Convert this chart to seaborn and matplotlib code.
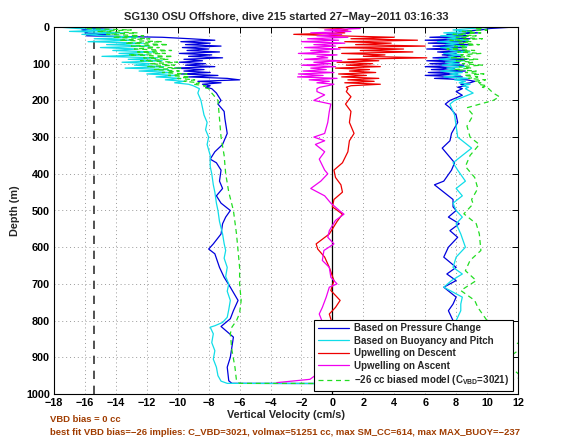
import numpy as np
import pandas as pd
import matplotlib
matplotlib.use("Agg")
import matplotlib.pyplot as plt
import seaborn as sns

sns.set_style("white")
plt.rcParams['font.family'] = ['Liberation Sans', 'DejaVu Sans']
plt.rcParams['font.weight'] = 'bold'
plt.rcParams['mathtext.fontset'] = 'custom'
plt.rcParams['mathtext.rm'] = 'Liberation Sans:bold'
plt.rcParams['mathtext.bf'] = 'Liberation Sans:bold'
plt.rcParams['mathtext.default'] = 'bf'

# ---------------- data ----------------
depth_top = [0, 4, 8, 12, 16, 20, 24, 28, 32, 36, 40, 44, 48, 52, 56, 60, 64, 68, 72, 76,
             80, 84, 88, 92, 96, 100, 104, 108, 112, 116, 120, 124, 128, 132, 136, 140,
             144, 148, 152, 156, 160, 164, 168]

# Based on Pressure Change (blue)
blue_dn_top = [-13.5, -15.5, -16.2, -15.8, -16.0, -14.5, -15.9, -11.0, -9.2, -7.6,
               -9.8, -7.9, -9.5, -7.2, -9.7, -8.0, -9.4, -7.3, -9.9, -7.8,
               -9.3, -7.1, -9.6, -8.4, -9.9, -8.2, -9.5, -7.6, -10.2, -8.3,
               -9.6, -7.9, -9.8, -7.4, -9.3, -6.8, -6.0, -8.7, -7.2, -8.4,
               -7.9, -8.2, -7.8]
blue_dn_deep_d = [180, 200, 210, 230, 250, 290, 320, 340, 360, 370, 390, 420, 440, 460, 480,
                  500, 518, 536, 564, 591, 605, 618, 655, 682, 709, 745, 773, 795, 816, 827,
                  845, 873, 900, 927, 964, 971]
blue_dn_deep_v = [-7.5, -7.2, -7.4, -7.0, -6.95, -6.8, -7.1, -7.6, -7.9, -7.5,
                  -7.2, -7.3, -7.1, -7.5, -7.2, -6.6, -6.9, -7.1, -7.2, -7.7,
                  -8.0, -7.6, -7.3, -7.0, -6.6, -6.1, -6.4, -6.6, -7.2, -6.9,
                  -6.4, -6.5, -6.6, -6.8, -6.7, -6.5]
blue_up_top = [11.8, 10.2, 9.6, 8.2, 9.4, 7.4, 8.8, 6.3, 8.9, 6.0,
               8.6, 6.2, 9.0, 6.5, 8.4, 6.1, 8.7, 6.8, 8.0, 7.1,
               8.3, 6.5, 8.7, 6.1, 8.2, 6.3, 8.5, 6.0, 7.9, 6.4,
               8.6, 6.2, 8.1, 6.0, 8.4, 6.6, 8.7, 9.2, 8.9, 8.3,
               8.6, 8.1, 8.4]
blue_up_deep_d = [176, 186, 200, 210, 220, 240, 260, 290, 310, 330, 350, 370, 390, 420, 430,
                  450, 470, 490, 500, 518, 536, 555, 573, 600, 627, 655, 673, 691, 709, 736,
                  755, 773, 800, 830, 860, 890, 920, 950, 972]
blue_up_deep_v = [8.0, 8.4, 7.6, 7.3, 7.6, 8.0, 8.1, 7.7, 7.6, 7.1,
                  7.5, 7.9, 7.7, 7.2, 6.6, 7.2, 7.8, 7.8, 8.0, 7.5,
                  8.2, 7.6, 8.1, 7.5, 7.2, 8.0, 7.4, 8.0, 7.2, 8.0,
                  7.8, 7.5, 7.8, 7.6, 7.9, 7.7, 7.8, 7.5, 7.0]

# Based on Buoyancy and Pitch (cyan)
cyan_dn_top = [-17.8, -16.5, -14.2, -17.0, -13.5, -16.2, -14.8, -12.6, -15.4, -13.0,
               -15.8, -12.2, -14.6, -11.8, -15.0, -12.6, -14.2, -11.5, -13.8, -12.0,
               -14.9, -11.3, -13.2, -11.0, -13.6, -11.7, -12.8, -10.9, -13.4, -10.6,
               -12.5, -10.4, -12.0, -10.1, -11.4, -9.8, -10.8, -9.6, -10.2, -9.3,
               -9.0, -8.8, -8.6]
cyan_dn_deep_d = [180, 200, 220, 240, 260, 280, 300, 320, 350, 380, 400, 430, 450, 480, 500,
                  530, 564, 590, 609, 630, 655, 680, 700, 720, 745, 770, 791, 805, 814, 818,
                  836, 860, 882, 905, 927, 950, 965, 971]
cyan_dn_deep_v = [-8.7, -8.5, -8.4, -8.3, -8.1, -8.2, -8.0, -8.1, -7.9, -7.9,
                  -7.8, -7.7, -7.6, -7.5, -7.4, -7.3, -7.1, -7.0, -6.9, -7.0,
                  -6.8, -6.9, -6.7, -6.8, -6.6, -6.7, -6.8, -7.1, -7.6, -7.9,
                  -7.7, -7.8, -7.6, -7.7, -7.5, -7.4, -7.2, -6.8]
cyan_up_top = [10.4, 9.0, 7.8, 8.9, 7.2, 8.6, 7.0, 8.4, 7.4, 8.8,
               6.8, 8.2, 7.3, 8.7, 7.0, 8.1, 7.6, 8.9, 7.2, 8.3,
               7.5, 8.0, 6.9, 8.5, 7.3, 8.2, 7.1, 8.6, 7.4, 8.0,
               7.0, 8.4, 7.6, 8.3, 7.2, 8.8, 7.9, 8.6, 8.2, 8.9,
               8.4, 8.8, 8.6]
cyan_up_deep_d = [180, 200, 210, 240, 270, 300, 330, 350, 370, 390, 420, 440, 460, 480, 500,
                  518, 536, 564, 600, 627, 655, 673, 691, 709, 736, 755, 773, 800, 830, 860,
                  890, 920, 950, 972]
cyan_up_deep_v = [9.1, 7.9, 7.6, 7.9, 8.0, 8.1, 9.0, 8.4, 7.8, 8.1,
                  8.6, 8.0, 8.4, 7.8, 8.0, 8.4, 8.0, 8.3, 8.6, 8.0,
                  7.8, 8.4, 7.7, 7.2, 8.4, 8.3, 8.3, 8.0, 8.1, 8.2,
                  8.0, 8.1, 7.9, 7.5]

# -26 cc biased model (green dashed)
green_dn_top = [-15.0, -16.0, -13.0, -15.2, -12.6, -14.6, -12.2, -14.2, -11.8, -13.8,
                -11.0, -13.4, -10.6, -13.0, -11.2, -12.8, -10.4, -12.6, -10.8, -13.2,
                -10.3, -12.2, -10.6, -12.4, -10.0, -11.8, -10.2, -12.0, -9.8, -11.5,
                -9.9, -11.0, -9.4, -10.6, -9.2, -10.0, -8.9, -9.6, -8.6, -9.0,
                -8.2, -8.4, -8.0]
green_dn_deep_d = [180, 200, 250, 300, 350, 400, 450, 500, 564, 609, 655, 700, 745, 780, 800,
                   818, 836, 880, 927, 964, 971]
green_dn_deep_v = [-7.8, -7.4, -7.3, -7.2, -7.0, -6.9, -6.7, -6.4, -6.2, -6.1, -6.0, -6.0,
                   -5.9, -6.0, -6.2, -6.5, -6.6, -6.5, -6.3, -6.2, -6.0]
green_up_top = [10.6, 9.2, 10.0, 8.4, 9.6, 7.8, 9.3, 8.0, 9.7, 7.6,
                9.0, 8.2, 9.5, 7.9, 8.8, 7.4, 9.2, 8.1, 9.6, 8.3,
                8.9, 7.7, 9.4, 8.0, 9.1, 8.4, 9.7, 8.2, 9.0, 7.9,
                9.3, 8.6, 9.8, 8.5, 9.4, 8.8, 9.9, 9.2, 9.6, 9.4,
                10.0, 9.7, 10.1]
green_up_deep_d = [180, 190, 200, 220, 240, 270, 300, 320, 350, 380, 410, 440, 470, 482, 509,
                   536, 564, 609, 636, 664, 691, 718, 745, 764, 800, 840, 870, 900, 930, 955,
                   972]
green_up_deep_v = [10.4, 10.8, 10.4, 8.7, 9.1, 8.7, 8.9, 9.5, 8.9, 8.6,
                   9.2, 9.4, 9.0, 9.1, 8.5, 9.3, 9.5, 9.6, 8.9, 8.6,
                   9.3, 8.3, 9.2, 9.4, 10.0, 10.8, 12.4, 11.4, 11.6, 12.3,
                   10.0]

# Upwelling on Descent (red)
red_top = [-1.5, 0.5, 1.0, 0.2, 0.8, -2.5, 0.3, 4.0, 1.2, 5.5,
           0.8, 3.8, 1.5, 6.0, 0.4, 4.6, 1.8, 5.2, 0.6, 3.4,
           2.0, 6.1, 1.0, 3.0, 0.3, 2.6, 0.9, 3.1, 0.2, 2.4,
           1.1, 2.8, 0.4, 2.2, 0.6, 3.0, 1.0, 2.7, 0.8, 3.1,
           1.2, 0.9, 1.0]
red_deep_d = [176, 190, 210, 230, 260, 290, 310, 340, 370, 390, 410, 430, 450, 470, 490,
              510, 530, 564, 591, 605, 627, 655, 691, 718, 745, 764, 782, 810, 850, 900, 940]
red_deep_v = [0.9, 1.2, 0.85, 1.2, 1.1, 1.4, 1.1, 1.0, 0.65, 0.1,
              0.2, 0.55, 0.65, 0.1, 0.0, 0.65, 0.3, -0.2, -1.05, -0.95,
              -0.5, -0.2, 0.1, -0.1, 0.5, 0.2, -0.2, 0.0, 0.2, -0.1, 0.1]

# Upwelling on Ascent (magenta)
mag_top = [0.5, 1.8, -0.5, 1.2, -1.4, 0.6, -1.0, 1.0, -1.6, 0.4,
           -2.0, 0.8, -1.2, 0.2, -1.8, 0.5, -1.4, -0.2, -2.2, 0.3,
           -1.0, -0.3, -1.8, 0.6, -1.2, -0.1, -2.0, 0.2, -1.4, -0.4,
           -1.9, 0.1, -2.2, -0.6, -2.25, 0.3, -1.5, -0.2, -1.0, 0.1,
           -0.3, -0.8, -1.0]
mag_deep_d = [176, 185, 200, 210, 230, 260, 290, 300, 310, 320, 340, 360, 390, 400, 420,
              440, 460, 480, 500, 510, 527, 555, 573, 591, 609, 636, 655, 682, 700, 709,
              736, 764, 782, 820, 860, 900, 940, 960, 969]
mag_deep_v = [-1.0, -0.5, -1.2, -0.1, -0.2, -0.3, -0.5, -1.2, -0.5, -1.1,
              -0.5, -0.85, -0.5, -0.3, -0.75, -1.4, -0.5, -0.1, 0.45, 0.75,
              0.2, -0.2, -0.3, 0.1, -0.55, -0.65, -0.2, -0.1, 0.3, -0.2,
              -0.4, -0.65, -0.85, -0.5, -0.6, -0.4, -0.8, -1.45, -3.6]

labels = ["Based on Pressure Change", "Based on Buoyancy and Pitch",
          "Upwelling on Descent", "Upwelling on Ascent",
          "\u221226 cc biased model (C$_{VBD}$=3021)"]
vbd_line = -15.4
x_ticks = list(range(-18, 13, 2))
y_ticks = list(range(0, 1001, 100))

title = "SG130 OSU Offshore, dive 215 started 27\u2212May\u22122011 03:16:33"
note1 = "VBD bias = 0 cc"
note2 = ("best fit VBD bias=\u221226 implies: C_VBD=3021, volmax=51251 cc, "
         "max SM_CC=614, max MAX_BUOY=\u2212237")


def profile(dn_top, dn_d, dn_v, up_top=None, up_d=None, up_v=None):
    d = list(depth_top) + list(dn_d)
    v = list(dn_top) + list(dn_v)
    if up_top is not None:
        d += list(up_d)[::-1] + list(depth_top)[::-1]
        v += list(up_v)[::-1] + list(up_top)[::-1]
    return pd.DataFrame({"vel": v, "depth": d})


blue_df = profile(blue_dn_top, blue_dn_deep_d, blue_dn_deep_v, blue_up_top, blue_up_deep_d, blue_up_deep_v)
cyan_df = profile(cyan_dn_top, cyan_dn_deep_d, cyan_dn_deep_v, cyan_up_top, cyan_up_deep_d, cyan_up_deep_v)
red_df = profile(red_top, red_deep_d, red_deep_v)
mag_df = profile(mag_top, mag_deep_d, mag_deep_v)
green_df = profile(green_dn_top, green_dn_deep_d, green_dn_deep_v, green_up_top, green_up_deep_d, green_up_deep_v)

# ---------------- figure ----------------
fig = plt.figure(figsize=(5.7, 4.4), dpi=100)
ax = fig.add_axes([54 / 570, 1 - 394 / 440, 464 / 570, 367 / 440])

kw = dict(x="vel", y="depth", sort=False, estimator=None, ax=ax, lw=0.9)
sns.lineplot(data=blue_df, color="#0000dd", label=labels[0], **kw)
sns.lineplot(data=cyan_df, color="#10dde8", label=labels[1], **kw)
sns.lineplot(data=red_df, color="#ee0000", label=labels[2], **kw)
sns.lineplot(data=mag_df, color="#f000f0", label=labels[3], **kw)
sns.lineplot(data=green_df, color="#22dd22", label=labels[4], dashes=False, **kw)
ax.lines[-1].set_linestyle((0, (4, 3)))

ax.axvline(vbd_line, color="#333333", lw=1.2, ls=(0, (5, 4)), zorder=1)
ax.axvline(0, color="black", lw=0.9, zorder=1)

ax.set_xlim(-18, 12)
ax.set_ylim(1000, 0)
ax.set_xticks(x_ticks)
ax.set_yticks(y_ticks)
ax.set_xticklabels([str(t).replace("-", "\u2212") for t in x_ticks])
ax.grid(True, color="#9a9a9a", ls=(0, (1, 3)), lw=0.7)
ax.tick_params(direction="in", top=True, right=True, length=4, width=0.7,
               labelsize=7.8, pad=3, colors="black")
for s in ax.spines.values():
    s.set_linewidth(0.8)
    s.set_color("black")

ax.set_title(title, fontsize=8, fontweight="bold", pad=5)
ax.set_xlabel("Vertical Velocity (cm/s)", fontsize=7.8, fontweight="bold", labelpad=1)
ax.set_ylabel("Depth (m)", fontsize=7.8, fontweight="bold", labelpad=4)

leg = ax.legend(loc="lower right", bbox_to_anchor=(0.99, 0.008), borderaxespad=0,
                fontsize=7, frameon=True, fancybox=False, edgecolor="black",
                framealpha=1, handlelength=3.2, handletextpad=0.5,
                labelspacing=0.25, borderpad=0.4)
leg.get_frame().set_linewidth(0.8)

fig.text(50 / 570, 1 - 419 / 440, note1, fontsize=6.8, color="#a03c00",
         fontweight="bold", va="center", ha="left")
fig.text(50 / 570, 1 - 432 / 440, note2, fontsize=6.8, color="#a03c00",
         fontweight="bold", va="center", ha="left")

fig.savefig("out.png", dpi=100)
